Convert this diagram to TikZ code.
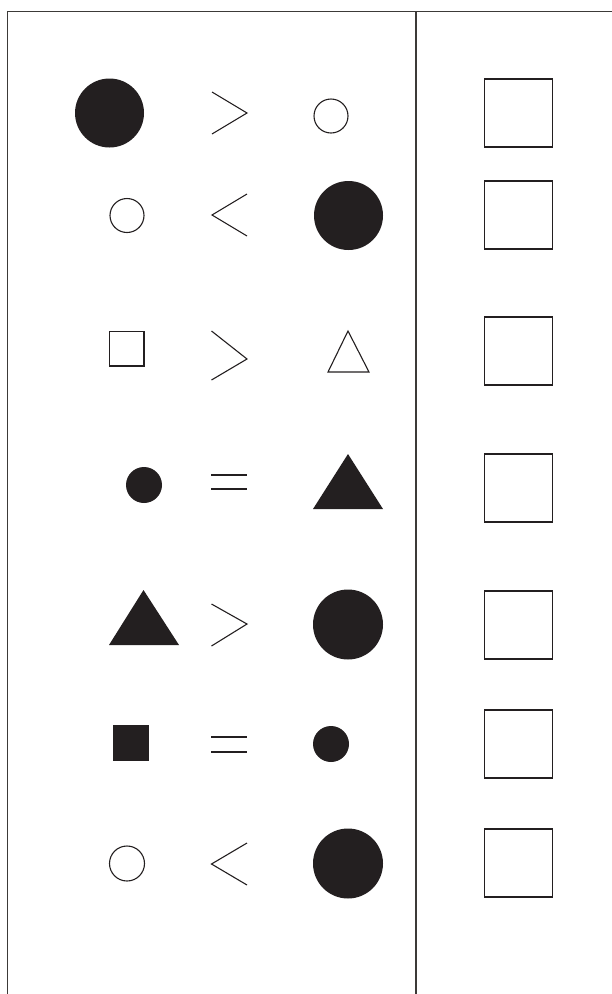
\documentclass[tikz,border=0pt]{standalone}
\definecolor{ink}{RGB}{35,31,32}
\definecolor{frame}{RGB}{60,58,56}
\begin{document}
\begin{tikzpicture}[x=1pt,y=-1pt,
  fillc/.style={fill=ink,draw=none},
  openc/.style={draw=ink,line width=1.1pt},
  rel/.style={draw=ink,line width=1.1pt},
  answer/.style={draw=ink,line width=1.4pt},
  framel/.style={draw=frame,line width=1.6pt}]
\useasboundingbox (0,0) rectangle (612,994);
% frame
\draw[framel] (7.5,994) -- (7.5,11.5) -- (612,11.5);
\draw[framel] (416,11.5) -- (416,994);
% answer boxes
\foreach \y in {79,181,317,454,591,710,829}
  \draw[answer] (484.5,\y) rectangle ++(68,68);
% row 1
\fill[ink] (109.5,113) circle (34.5);
\draw[rel] (212,92) -- (247,113) -- (212,134);
\draw[openc] (331,116) circle (17);
% row 2
\draw[openc] (127,215.5) circle (17);
\draw[rel] (247,194) -- (212,215) -- (247,236);
\fill[ink] (348.5,215.5) circle (34.5);
% row 3
\draw[openc] (109.5,331.5) rectangle (144,366);
\draw[rel] (211.5,331) -- (247,359) -- (211.5,380);
\draw[openc] (348,331) -- (369,372) -- (328,372) -- cycle;
% row 4
\fill[ink] (144,485) circle (18);
\draw[rel] (211,475) -- (247,475) (211,489) -- (247,489);
\fill[ink] (348,454) -- (383,509) -- (313,509) -- cycle;
% row 5
\fill[ink] (143.5,590) -- (179,645) -- (109,645) -- cycle;
\draw[rel] (211.5,604) -- (247,624) -- (211.5,646);
\fill[ink] (348,624.5) circle (35);
% row 6
\fill[ink] (113,725) rectangle (149,761);
\draw[rel] (211,737) -- (247,737) (211,752) -- (247,752);
\fill[ink] (331,744) circle (18);
% row 7
\draw[openc] (127,863.5) circle (17.5);
\draw[rel] (247,843) -- (211.5,864) -- (247,885);
\fill[ink] (348,863.5) circle (35);
\end{tikzpicture}
\end{document}
